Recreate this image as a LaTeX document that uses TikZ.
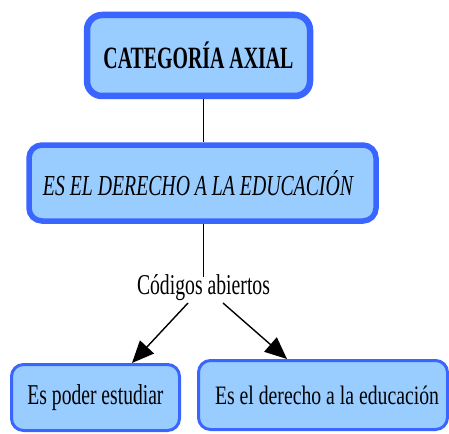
\documentclass[tikz,border=0pt]{standalone}
\usepackage{fontspec}
\setmainfont{Liberation Serif}
\usetikzlibrary{arrows.meta}
\definecolor{boxfill}{HTML}{99CCFF}
\definecolor{boxline}{HTML}{3A66FF}
\tikzset{
  cbox/.style={draw=boxline, fill=boxfill, rounded corners=#1, inner sep=0pt, align=center},
  conn/.style={draw=black, line width=1.4pt},
  arr/.style={conn, -{Triangle[length=22pt,width=19pt]}},
}
\newcommand{\sq}[3]{\resizebox{#1}{\height}{\fontsize{#2}{#2}\selectfont #3}}
\begin{document}
\begin{tikzpicture}[x=1pt,y=-1pt]
\useasboundingbox (0,0) rectangle (449,433);
\node[cbox=15pt, line width=6.5pt, minimum width=223pt, minimum height=81pt] (top) at (198.5,55.5)
  {\raisebox{-3pt}{\sq{190pt}{31}{\bfseries CATEGORÍA AXIAL}}};
\node[cbox=13pt, line width=5.5pt, minimum width=347pt, minimum height=76pt] (mid) at (202.5,183)
  {\hspace*{-9pt}\raisebox{-5pt}{\sq{310pt}{29}{\itshape ES EL DERECHO A LA EDUCACIÓN}}};
\node[anchor=base, inner sep=0pt] (lbl) at (203.5,294) {\sq{133pt}{28.7}{Códigos abiertos}};
\node[cbox=12pt, line width=3pt, minimum width=168pt, minimum height=66pt] (l) at (95.5,397.5)
  {\sq{136pt}{28.7}{Es poder estudiar}};
\node[cbox=12pt, line width=3pt, minimum width=249pt, minimum height=69pt] (r) at (323,395)
  {\hspace*{8pt}\sq{224pt}{26.6}{Es el derecho a la educación}};
\coordinate (s1) at (188,303);
\coordinate (s2) at (223,303);
\draw[conn] (lbl.base |- top.south) -- (lbl.base |- mid.north);
\draw[conn] (lbl.base |- mid.south) -- ([yshift=-3pt]lbl.north);
\draw[arr] (s1) -- ([xshift=36.5pt]l.north);
\draw[arr] (s2) -- ([xshift=-36pt]r.north);
\end{tikzpicture}
\end{document}
